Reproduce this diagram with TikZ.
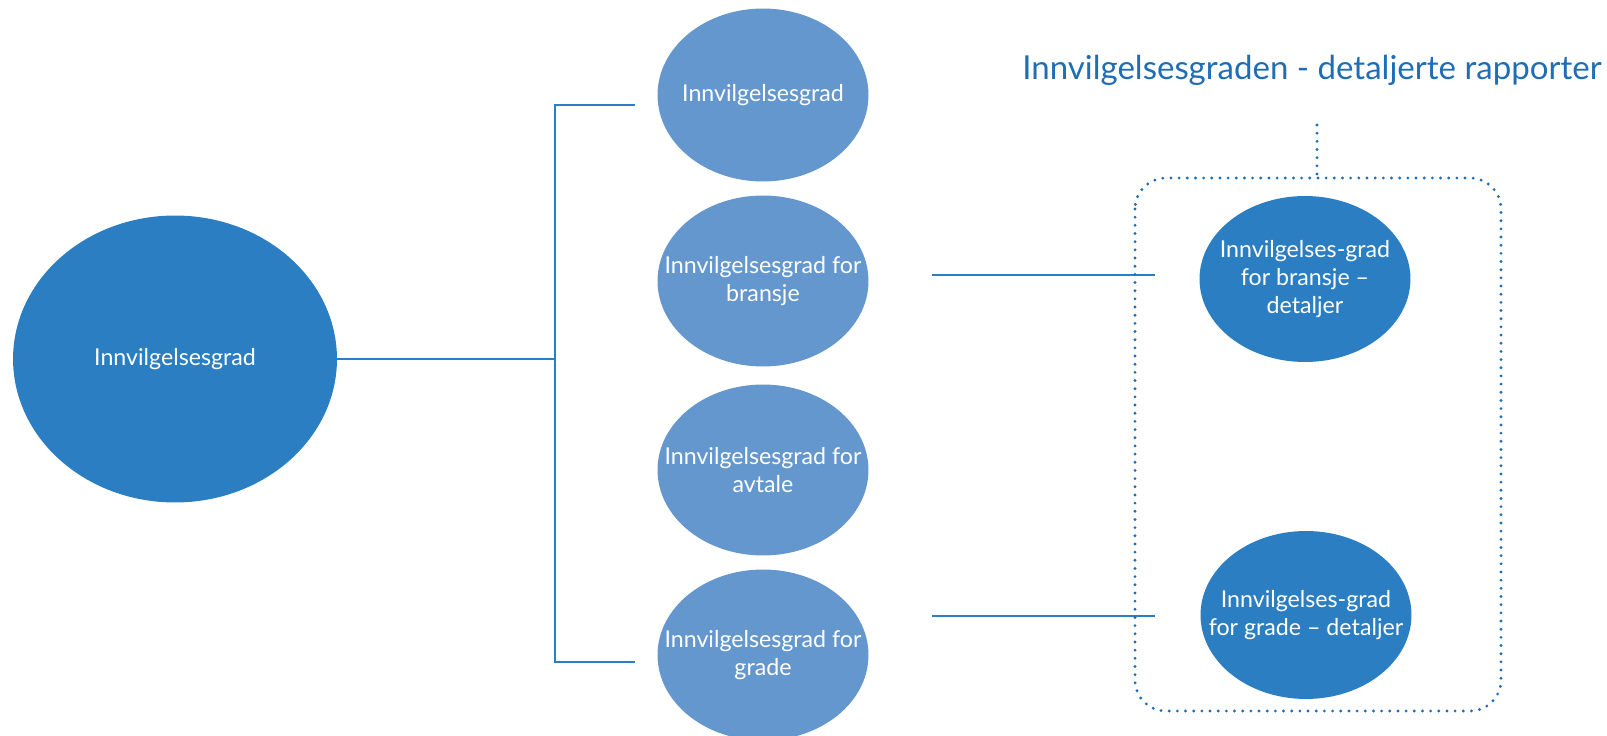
\documentclass[tikz,border=0pt]{standalone}
\usepackage{fontspec}
\setmainfont{Lato}
\usetikzlibrary{shapes.geometric}

\definecolor{darkblue}{HTML}{2B7EC1}
\definecolor{lightblue}{HTML}{6497CE}
\definecolor{titleblue}{HTML}{1F6DB5}

\tikzset{
  bubble/.style={ellipse, fill=#1, draw=none, text=white, align=center,
    font=\fontsize{13.2}{16}\selectfont, inner xsep=-22pt, inner ysep=-4pt},
  bubble/.default=lightblue,
  link/.style={draw=darkblue, line width=0.9pt},
  dotline/.style={draw=titleblue, line width=1.8pt, line cap=round,
    dash pattern=on 0pt off 4.65pt}
}

\begin{document}
\begin{tikzpicture}[x=0.02cm, y=-0.02cm]
\useasboundingbox (0,0) rectangle (1607,736);

% Main bubble
\node[bubble=darkblue, minimum width=6.48cm, minimum height=5.74cm] (main) at (175,359) {Innvilgelsesgrad};

% Report bubbles
\node[bubble, minimum width=4.22cm, minimum height=3.46cm] (r1) at (763,95) {Innvilgelsesgrad};
\node[bubble, minimum width=4.22cm, minimum height=3.42cm] (r2) at (763,281) {Innvilgelsesgrad for\\bransje};
\node[bubble, minimum width=4.22cm, minimum height=3.42cm] (r3) at (763,470) {Innvilgelsesgrad for\\avtale};
\node[bubble, minimum width=4.22cm, minimum height=3.42cm] (r4) at (763,655) {Innvilgelsesgrad for\\grade};

% Detail bubbles
\node[bubble=darkblue, minimum width=4.22cm, minimum height=3.32cm] (d1) at (1305,279) {Innvilgelses-grad\\for bransje --\\detaljer};
\node[bubble=darkblue, minimum width=4.22cm, minimum height=3.36cm] (d2) at (1306,615) {Innvilgelses-grad\\for grade -- detaljer};

% Title
\node[text=titleblue, font=\fontsize{18.8}{22}\selectfont] (title) at (1312,70)
  {Innvilgelsesgraden - detaljerte rapporter};

% Bracket
\coordinate (split) at (555,359);
\coordinate (bt) at (555,105);
\coordinate (bb) at (555,662);
\coordinate (e1) at (635,105);
\coordinate (e4) at (635,662);
\draw[link] (main.east) -- (split);
\draw[link] (e1) -- (bt) -- (bb) -- (e4);

% Links to the details
\coordinate (a1) at (932,275);
\coordinate (b1) at (1155,275);
\coordinate (a2) at (932,616);
\coordinate (b2) at (1155,616);
\draw[link] (a1) -- (b1);
\draw[link] (a2) -- (b2);

% Dotted frame
\coordinate (boxtop) at (1317,178);
\coordinate (stem) at (1317,125);
\draw[dotline, rounded corners=0.62cm] (1135,178) rectangle (1501,711);
\draw[dotline] (stem) -- (boxtop);
\end{tikzpicture}
\end{document}
